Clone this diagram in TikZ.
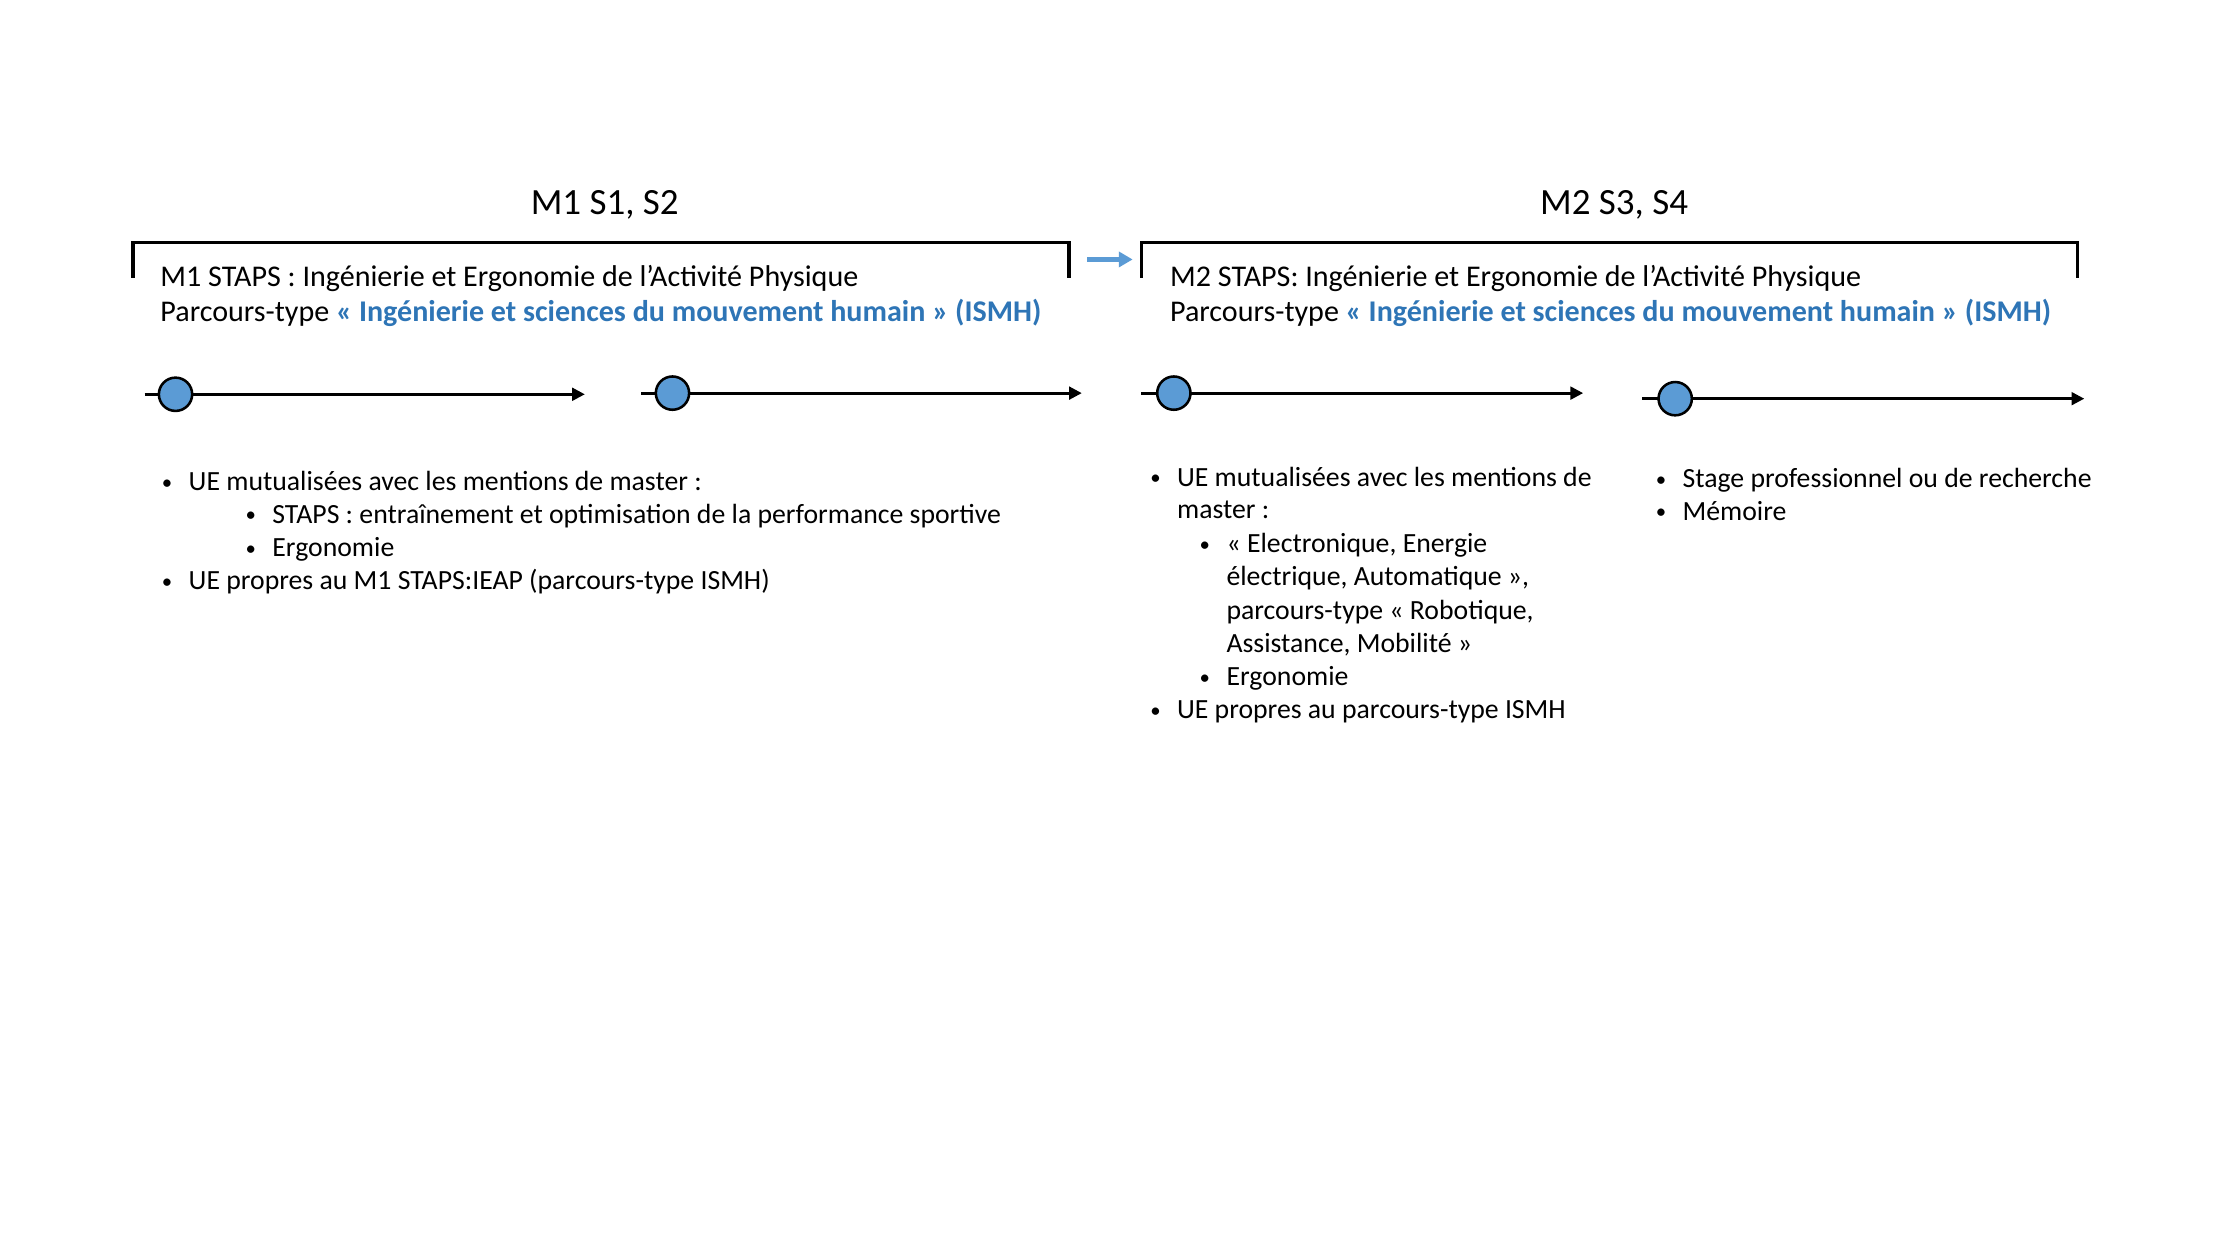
\documentclass[tikz,border=0pt]{standalone}
\usepackage{fontspec}
\usepackage{graphicx}
\setmainfont{Carlito}
\usetikzlibrary{arrows.meta}
\definecolor{ismhblue}{HTML}{2E75B6}
\definecolor{dotblue}{HTML}{5B9BD5}
\newcommand{\ueb}{\makebox[11.6pt][l]{\raisebox{0.6pt}{\scalebox{0.75}{\textbullet}}}}
\newcommand{\ism}[1]{\textcolor{ismhblue}{\textbf{#1}}}

\begin{document}
\begin{tikzpicture}[x=1pt, y=-1pt,
    ttl/.style={anchor=base, inner sep=0pt, font=\fontsize{16}{19}\selectfont},
    txt/.style={anchor=base west, inner sep=0pt, font=\fontsize{12}{14.4}\selectfont},
    hdr/.style={anchor=base west, inner sep=0pt, font=\fontsize{13}{15.4}\selectfont},
    dot/.style={circle, draw=black, fill=dotblue, line width=1.1pt, minimum size=14.4pt, inner sep=0pt},
    tl/.style={line width=1.2pt, -{Triangle[length=5.5pt,width=5.5pt]}},
    brk/.style={line width=1.5pt}]
    \useasboundingbox (0,0) rectangle (960,540);

    % titles and brackets
    \node[ttl] (t1) at (261.5,92.7) {M1 S1, S2};
    \node[ttl] (t2) at (698.0,92.7) {M2 S3, S4};
    \coordinate (b1l) at (57.5,120.1);
    \coordinate (b1r) at (462.3,120.1);
    \coordinate (b2l) at (493.5,120.1);
    \coordinate (b2r) at (898.3,120.1);
    \draw[brk] (b1l) -- ++(0,-15.3) -| (b1r);
    \draw[brk] (b2l) -- ++(0,-15.3) -| (b2r);
    \coordinate (g1) at (470.2,112.2);
    \coordinate (g2) at (489.8,112.2);
    \draw[dotblue, line width=1.8pt, -{Triangle[length=6pt,width=6.5pt]}] (g1) -- (g2);

    \node[hdr] (h1a) at (69.2,123.8) {M1 STAPS : Ingénierie et Ergonomie de l’Activité Physique};
    \node[hdr] (h1b) at (69.2,139.1) {Parcours-type \ism{« Ingénierie et sciences du mouvement humain » (ISMH)}};
    \node[hdr] (h2a) at (505.8,123.8) {M2 STAPS: Ingénierie et Ergonomie de l’Activité Physique};
    \node[hdr] (h2b) at (505.8,139.1) {Parcours-type \ism{« Ingénierie et sciences du mouvement humain » (ISMH)}};

    % timelines
    \coordinate (s1) at (62.5,170.5);
    \coordinate (e1) at (252.9,170.5);
    \coordinate (s2) at (277.4,170.0);
    \coordinate (e2) at (467.8,170.0);
    \coordinate (s3) at (493.5,170.0);
    \coordinate (e3) at (684.6,170.0);
    \coordinate (s4) at (710.2,172.4);
    \coordinate (e4) at (901.3,172.4);
    \draw[tl] (s1) -- (e1);
    \draw[tl] (s2) -- (e2);
    \draw[tl] (s3) -- (e3);
    \draw[tl] (s4) -- (e4);
    \node[dot] (c1) at (75.9,170.5) {};
    \node[dot] (c2) at (290.8,170.0) {};
    \node[dot] (c3) at (507.6,170.0) {};
    \node[dot] (c4) at (724.4,172.4) {};

    % M1 contents
    \node[txt] (l1) at (69.8,212.1) {\ueb UE mutualisées avec les mentions de master :};
    \node[txt] (l2) at (106.0,226.2) {\ueb STAPS : entraînement et optimisation de la performance sportive};
    \node[txt] (l3) at (106.0,240.8) {\ueb Ergonomie};
    \node[txt] (l4) at (69.8,255.0) {\ueb UE propres au M1 STAPS:IEAP (parcours-type ISMH)};

    % M2 S3 contents
    \node[txt] (m1) at (497.2,210.3) {\ueb UE mutualisées avec les mentions de};
    \node[txt] (m2) at (508.8,224.3) {master :};
    \node[txt] (m3) at (518.6,239.0) {\ueb « Electronique, Energie};
    \node[txt] (m4) at (530.2,253.1) {électrique, Automatique »,};
    \node[txt] (m5) at (530.2,267.8) {parcours-type « Robotique,};
    \node[txt] (m6) at (530.2,282.0) {Assistance, Mobilité »};
    \node[txt] (m7) at (518.6,296.6) {\ueb Ergonomie};
    \node[txt] (m8) at (497.2,310.8) {\ueb UE propres au parcours-type ISMH};

    % M2 S4 contents
    \node[txt] (r1) at (715.8,210.9) {\ueb Stage professionnel ou de recherche};
    \node[txt] (r2) at (715.8,224.9) {\ueb Mémoire};
\end{tikzpicture}
\end{document}
